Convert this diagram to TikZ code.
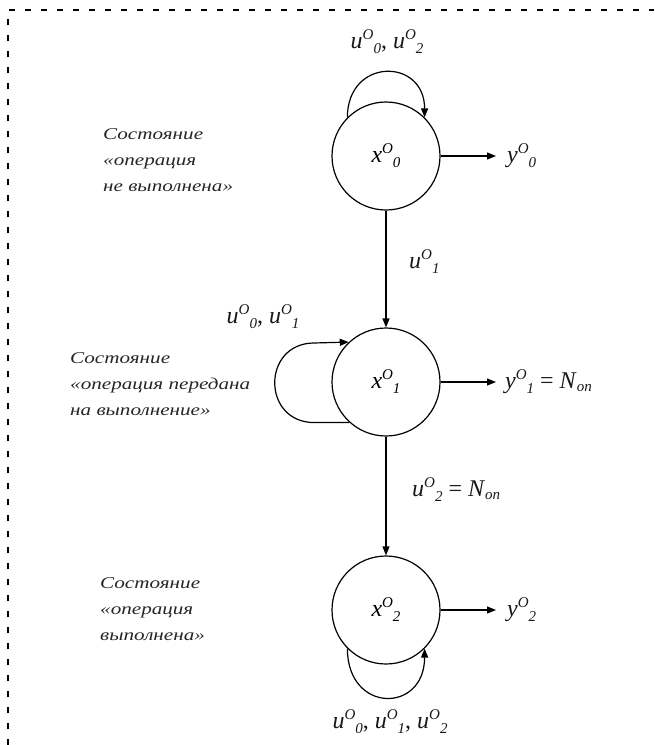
\documentclass[tikz,border=0pt]{standalone}
\usepackage{fontspec}
\setmainfont{Liberation Serif}
\newfontfamily\captfont[FakeStretch=1.28]{Liberation Serif}
\usetikzlibrary{arrows.meta}
\newcommand{\sv}[2]{\textit{#1}\raisebox{9pt}{\fontsize{15}{15}\selectfont\itshape O}\raisebox{-5pt}{\fontsize{15}{15}\selectfont\itshape #2}}
\newcommand{\Non}{\textit{N}\raisebox{-3pt}{\fontsize{15}{15}\selectfont\itshape on}}
\begin{document}
\begin{tikzpicture}[x=1pt,y=-1pt,
  state/.style={draw,circle,line width=1.2pt,minimum size=108pt,inner sep=0pt,font=\fontsize{24}{24}\selectfont},
  lbl/.style={inner sep=0pt,font=\fontsize{24}{24}\selectfont,text=black!90},
  capt/.style={inner sep=0pt,align=left,font=\captfont\itshape\fontsize{16.5}{26}\selectfont,text=black!85},
  arr/.style={line width=1.2pt,-{Triangle[length=9pt,width=7pt]}},
  frame/.style={line width=2pt,dash pattern=on 6pt off 10pt}]
\useasboundingbox (0,0) rectangle (654,745);
\draw[frame] (8,745) -- (8,10) -- (654,10);

\node[state] (x0) at (386,156) {\sv{x}{0}};
\node[state] (x1) at (386,382) {\sv{x}{1}};
\node[state] (x2) at (386,610) {\sv{x}{2}};

\coordinate (t0) at (496,156);
\coordinate (t1) at (496,382);
\coordinate (t2) at (496,610);
\node[lbl,anchor=west] (y0) at (507,156) {\sv{y}{0}};
\node[lbl,anchor=west] (y1) at (505,382) {\sv{y}{1} = \Non};
\node[lbl,anchor=west] (y2) at (507,610) {\sv{y}{2}};

\draw[arr] (x0.east) -- (t0);
\draw[arr] (x1.east) -- (t1);
\draw[arr] (x2.east) -- (t2);

\draw[arr] (x0) -- (x1);
\draw[arr] (x1) -- (x2);

\node[lbl] (l0) at (387,42) {\sv{u}{0}, \sv{u}{2}};
\node[lbl,anchor=west] (l01) at (409,262) {\sv{u}{1}};
\node[lbl] (l1) at (263,317) {\sv{u}{0}, \sv{u}{1}};
\node[lbl,anchor=west] (l12) at (412,490) {\sv{u}{2} = \Non};
\node[lbl] (l2) at (390,722) {\sv{u}{0}, \sv{u}{1}, \sv{u}{2}};

\draw[arr] (x0.135) .. controls +(0,-60) and +(0,-60) .. (x0.45);
\draw[arr] (x1.228) -- ++(-35,0) .. controls +(-53,0) and +(-53,0) .. ++(0,-79.6) -- (x1.133);
\draw[arr] (x2.225) .. controls +(0,65) and +(0,65) .. (x2.-45);

\node[capt,anchor=north west] (c0) at (103,128) {Состояние\\«операция\\не выполнена»};
\node[capt,anchor=north west] (c1) at (70,352) {Состояние\\«операция передана\\на выполнение»};
\node[capt,anchor=north west] (c2) at (100,577) {Состояние\\«операция\\выполнена»};
\end{tikzpicture}
\end{document}
